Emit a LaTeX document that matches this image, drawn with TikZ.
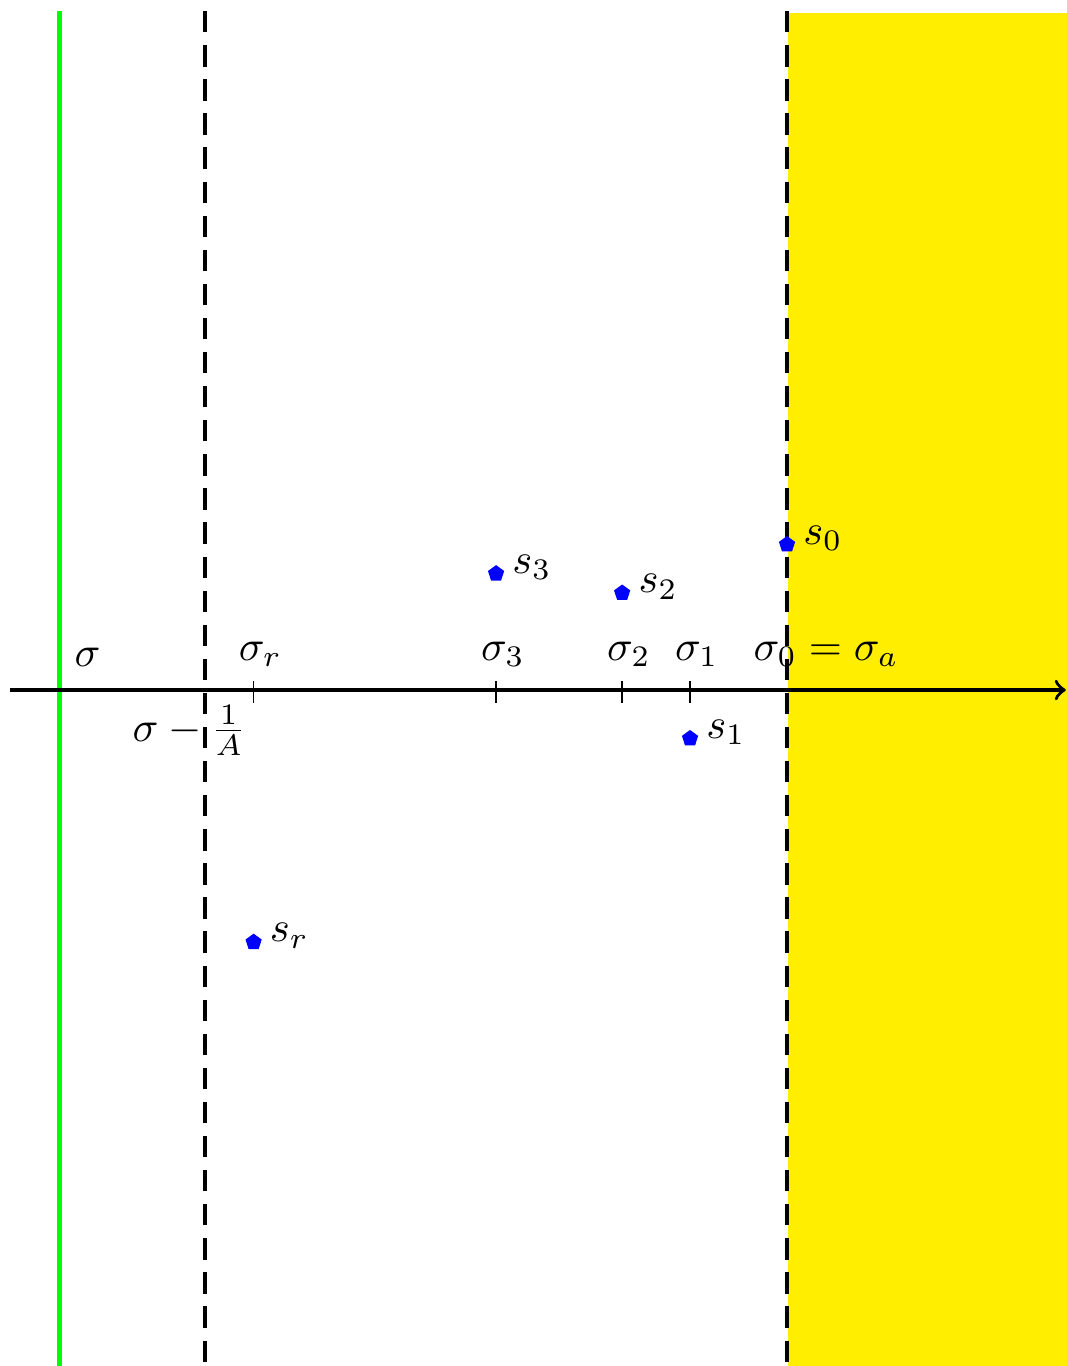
\documentclass[tikz,border=0pt]{standalone}
\usetikzlibrary{positioning, shapes.geometric}
\definecolor{stripyellow}{RGB}{255,238,0}

\begin{document}
\begin{tikzpicture}[
    x=0.4cm, y=0.4cm,
    >=to,
    axis/.style={->, thick},
    bound/.style={thick, dash pattern=on 5pt off 3pt},
    abscissa/.style={green, line width=1.2pt},
    pole/.style={regular polygon, regular polygon sides=5, fill=blue,
                 draw=none, inner sep=0pt, minimum size=4pt},
    tickmark/.style={thin},
    lab/.style={above=2pt},
    plab/.style={right=0pt of #1, xshift=-1.6pt, yshift=1.5pt},
]
\useasboundingbox (-4.23,-13.94) rectangle (17.77,14.23);

% ── half-plane of absolute convergence ───────────────────────────────────────
\fill[stripyellow] (12.03,13.96) rectangle (18,-15);

% ── vertical lines ───────────────────────────────────────────────────────────
\coordinate (gtop) at (-3,14);
\coordinate (gbot) at (-3,-14.5);
\coordinate (ltop) at (0,14);
\coordinate (lbot) at (0,-14.5);
\coordinate (rtop) at (12,14);
\coordinate (rbot) at (12,-14.5);
\draw[abscissa] (gtop) -- (gbot);
\draw[bound] (ltop) -- (lbot);

% ── real axis ────────────────────────────────────────────────────────────────
\coordinate (axl) at (-4.02,0);
\coordinate (axr) at (17.75,0);
\draw[axis] (axl) -- (axr);
\draw[bound] (rtop) -- (rbot);

% ── ticks and their labels ───────────────────────────────────────────────────
\draw[tickmark] (1,0.18) -- (1,-0.26);
\draw[tickmark] (6,0.18) -- (6,-0.26);
\draw[tickmark] (8.6,0.18) -- (8.6,-0.26);
\draw[tickmark] (10,0.18) -- (10,-0.26);

\node[lab, anchor=south west] (sig) at (-3,0) {$\sigma$};
\node[lab, xshift=1.6pt] (sigr) at (1,0) {$\sigma_r$};
\node[lab, xshift=1.6pt] (sig3) at (6,0) {$\sigma_3$};
\node[lab, xshift=1.6pt] (sig2) at (8.6,0) {$\sigma_2$};
\node[lab, xshift=1.6pt] (sig1) at (10,0) {$\sigma_1$};
\node[lab, anchor=south west] (sig0) at (11,0) {$\sigma_0 = \sigma_a$};
\node[below] (shift) at (-0.32,0) {$\sigma - \frac{1}{A}$};

% ── poles ────────────────────────────────────────────────────────────────────
\node[pole] (s0) at (12,3) {};
\node[pole] (s1) at (10,-1) {};
\node[pole] (s2) at (8.6,2) {};
\node[pole] (s3) at (6,2.4) {};
\node[pole] (sr) at (1,-5.2) {};

\node[plab=s0] (s0lab) {$s_0$};
\node[plab=s1] (s1lab) {$s_1$};
\node[plab=s2] (s2lab) {$s_2$};
\node[plab=s3] (s3lab) {$s_3$};
\node[plab=sr] (srlab) {$s_r$};

\end{tikzpicture}
\end{document}
